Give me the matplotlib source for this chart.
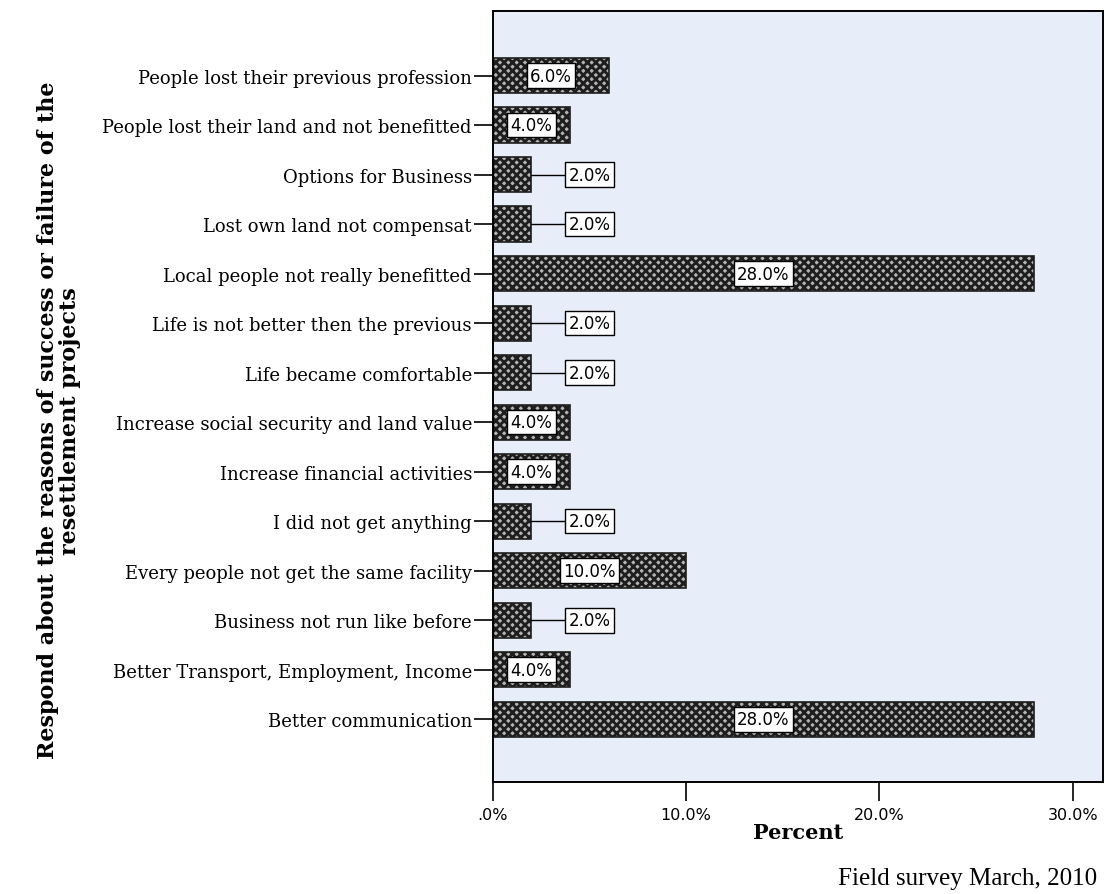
import numpy as np
import matplotlib.pyplot as plt
from matplotlib.ticker import FuncFormatter

# respuestas (de arriba hacia abajo) y porcentajes
categorias = [
    'People lost their previous profession',
    'People lost their land and not benefitted',
    'Options for Business',
    'Lost own land not compensat',
    'Local people not really benefitted',
    'Life is not better then the previous',
    'Life became comfortable',
    'Increase social security and land value',
    'Increase financial activities',
    'I did not get anything',
    'Every people not get the same facility',
    'Business not run like before',
    'Better Transport, Employment, Income',
    'Better communication',
]
porcentajes = [6.0, 4.0, 2.0, 2.0, 28.0, 2.0, 2.0, 4.0, 4.0, 2.0, 10.0, 2.0, 4.0, 28.0]
etiquetas = ['%.1f%%' % p for p in porcentajes]
ticks_x = [0, 10, 20, 30]

fig = plt.figure(figsize=(11.05, 8.95), dpi=100)
ax = fig.add_axes([0.446, 0.125, 0.552, 0.862])
ax.set_facecolor('#e7eef9')

y = np.arange(len(categorias))[::-1]
plt.rcParams['hatch.linewidth'] = 2.0
plt.rcParams['hatch.color'] = '#1e1e1e'
ax.barh(y, porcentajes, height=0.71, color='#b4b4b4', edgecolor='#1e1e1e',
        hatch='xxxx', linewidth=1.2, zorder=2)

# etiquetas de valor: en el centro de la barra si cabe, si no a la derecha con una linea
for yi, p, txt in zip(y, porcentajes, etiquetas):
    caja = dict(boxstyle='square,pad=0.2', fc='white', ec='black', lw=1.0)
    if p >= 4:
        xt = p / 2
    else:
        xt = 5.0
        ax.plot([p, xt - 1.2], [yi, yi], color='black', lw=1.0, zorder=3)
    ax.text(xt, yi, txt, ha='center', va='center', fontsize=12,
            family='DejaVu Sans', bbox=caja, zorder=4)

ax.set_xlim(0, 31.55)
ax.set_ylim(-1.27, len(categorias) - 1 + 1.31)
ax.set_xticks(ticks_x)
ax.xaxis.set_major_formatter(FuncFormatter(lambda v, pos: '.0%' if v == 0 else '%.1f%%' % v))
ax.set_yticks(y)
ax.set_yticklabels(categorias, family='DejaVu Serif', fontsize=13)
ax.tick_params(axis='y', length=14, width=1.2, pad=1)
ax.tick_params(axis='x', length=14, width=1.2, pad=4, labelsize=11.5)
for s in ax.spines.values():
    s.set_linewidth(1.4)

ax.set_xlabel('Percent', family='DejaVu Serif', fontweight='bold', fontsize=15, labelpad=0)
fig.text(0.053, 0.53, 'Respond about the reasons of success or failure of the\nresettlement projects',
         rotation=90, ha='center', va='center', family='DejaVu Serif',
         fontweight='bold', fontsize=16, linespacing=1.0)
fig.text(0.758, 0.006, 'Field survey March, 2010', family='Liberation Serif',
         fontsize=18, ha='left', va='bottom')

fig.savefig('out.png', dpi=100)
